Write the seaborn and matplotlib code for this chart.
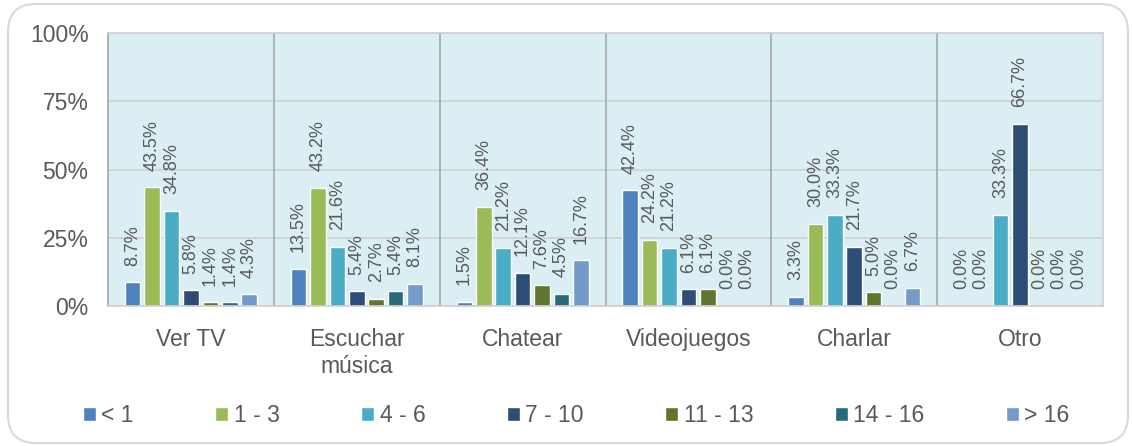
import matplotlib
matplotlib.use("Agg")
import matplotlib.pyplot as plt
from matplotlib.patches import FancyBboxPatch
import pandas as pd
import seaborn as sns

# --- Datos ---
actividades = ["Ver TV", "Escuchar\nmúsica", "Chatear", "Videojuegos", "Charlar", "Otro"]
rangos = ["< 1", "1 - 3", "4 - 6", "7 - 10", "11 - 13", "14 - 16", "> 16"]

ver_tv      = [8.7, 43.5, 34.8, 5.8, 1.4, 1.4, 4.3]
escuchar    = [13.5, 43.2, 21.6, 5.4, 2.7, 5.4, 8.1]
chatear     = [1.5, 36.4, 21.2, 12.1, 7.6, 4.5, 16.7]
videojuegos = [42.4, 24.2, 21.2, 6.1, 6.1, 0.0, 0.0]
charlar     = [3.3, 30.0, 33.3, 21.7, 5.0, 0.0, 6.7]
otro        = [0.0, 0.0, 33.3, 66.7, 0.0, 0.0, 0.0]

yticks = [0, 25, 50, 75, 100]

colores = ["#4F81BD", "#9BBB59", "#4BACC6", "#2C4D75", "#5F7530", "#276A7C", "#729ACA"]

valores = [ver_tv, escuchar, chatear, videojuegos, charlar, otro]
filas = []
for act, vals in zip(actividades, valores):
    for r, v in zip(rangos, vals):
        filas.append({"actividad": act, "rango": r, "pct": v})
df = pd.DataFrame(filas)

sns.set_style("white")
plt.rcParams["font.family"] = ["Liberation Sans", "DejaVu Sans"]
GRIS = "#595959"
FS = 16.5

fig = plt.figure(figsize=(11.32, 4.46), dpi=100)
ax = fig.add_axes([0.0954, 0.3139, 0.8790, 0.6121])

sns.barplot(data=df, x="actividad", y="pct", hue="rango",
            order=actividades, hue_order=rangos, palette=colores,
            width=0.82, gap=0.2, saturation=1, ax=ax, errorbar=None)

ax.set_facecolor("#DAEEF3")
ax.set_ylim(0, 100)
ax.set_xlim(-0.5, len(actividades) - 0.5)
ax.set_yticks(yticks)
ax.set_yticklabels([f"{t}%" for t in yticks], fontsize=FS, color=GRIS)
ax.tick_params(axis="x", labelsize=FS, labelcolor=GRIS, length=0, pad=16)
ax.tick_params(axis="y", length=0, pad=14)
ax.set_xlabel("")
ax.set_ylabel("")
ax.yaxis.grid(True, color="#D0D0D0", lw=1.2)
ax.set_axisbelow(True)

# separadores entre categorías
for i in range(1, len(actividades)):
    ax.axvline(i - 0.5, color="#A6A6A6", lw=1.2, zorder=1)

for lado, sp in ax.spines.items():
    sp.set_visible(True)
    sp.set_color("#D0D0D0")
    sp.set_linewidth(1.2)
ax.spines["left"].set_color("#A6A6A6")

for cont in ax.containers:
    ax.bar_label(cont, fmt="%.1f%%", rotation=90, padding=12,
                 fontsize=13, color=GRIS)

handles, labels = ax.get_legend_handles_labels()
ax.get_legend().remove()
fig.legend(handles, labels, loc="center", bbox_to_anchor=(0.509, 0.068),
           ncol=7, frameon=False, fontsize=FS, labelcolor=GRIS,
           handlelength=0.58, handleheight=0.58, handletextpad=0.23,
           columnspacing=3.55)

# borde redondeado
borde = FancyBboxPatch((0.08, 0.03), 11.2, 4.39,
                       boxstyle="round,pad=0,rounding_size=0.28",
                       transform=fig.dpi_scale_trans, facecolor="none",
                       edgecolor="#D9D9D9", lw=1.5)
fig.add_artist(borde)

fig.savefig("out.png", dpi=100)
